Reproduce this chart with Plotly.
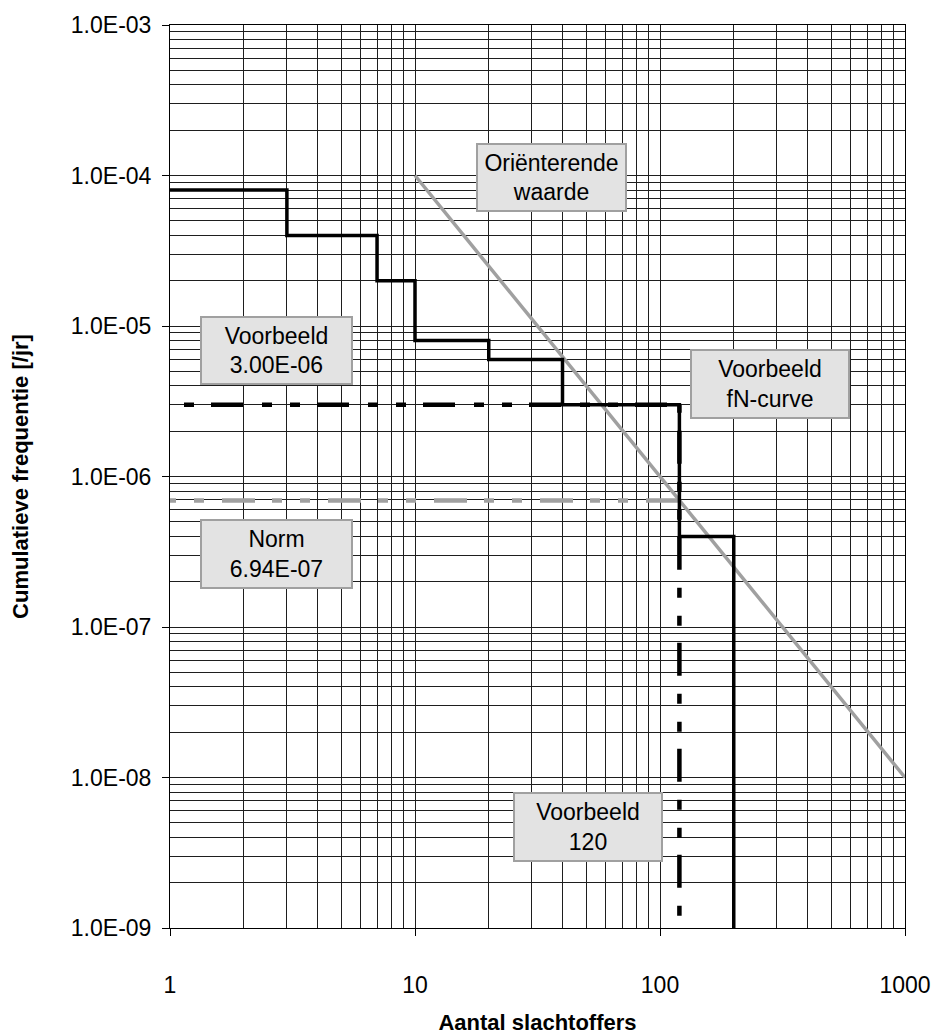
import plotly.graph_objects as go

# ---- data ----
fn_N = [1, 3, 7, 10, 20, 40, 120, 200]
fn_F = [8e-5, 4e-5, 2e-5, 8e-6, 6e-6, 3e-6, 4e-7, 1e-9]

ow_N = [10, 1000]
ow_F = [1e-4, 1e-8]

vb_N = [1, 120]
vb_F = [3e-6, 3e-6]

norm_N = [1, 120]
norm_F = [6.94e-7, 6.94e-7]

v120_N = [120, 120]
v120_F = [3e-6, 1e-9]

x_tickvals = [1, 10, 100, 1000]
x_ticktext = ["1", "10", "100", "1000"]
y_tickvals = [1e-9, 1e-8, 1e-7, 1e-6, 1e-5, 1e-4, 1e-3]
y_ticktext = ["1.0E-09", "1.0E-08", "1.0E-07", "1.0E-06", "1.0E-05", "1.0E-04", "1.0E-03"]

labels = [
    ("Oriënterende<br>waarde", 1.557, -4.013, 151, 69),
    ("Voorbeeld<br>3.00E-06", 0.433, -5.163, 153, 69),
    ("Voorbeeld<br>fN-curve", 2.450, -5.385, 160, 70),
    ("Norm<br>6.94E-07", 0.433, -6.515, 153, 70),
    ("Voorbeeld<br>120", 1.706, -8.329, 150, 70),
]

x_minor = [m * 10 ** d for d in range(0, 3) for m in range(2, 10)]
y_minor = [m * 10.0 ** d for d in range(-9, -3) for m in range(2, 10)]


def dash(prefix, cycle, n):
    vals = list(prefix) + list(cycle) * n
    return ",".join(f"{v}px" for v in vals)


FONT = "Liberation Sans, Arial, sans-serif"
GRID = "#1e1e1e"

fig = go.Figure()

fig.add_trace(go.Scatter(x=ow_N, y=ow_F, mode="lines",
                         line=dict(color="#a0a0a0", width=3.5), showlegend=False))
fig.add_trace(go.Scatter(x=norm_N, y=norm_F, mode="lines",
                         line=dict(color="#a0a0a0", width=4.5,
                                   dash=dash([6, 18], [10, 18, 33, 17, 10, 18], 6)),
                         showlegend=False))
fig.add_trace(go.Scatter(x=vb_N, y=vb_F, mode="lines",
                         line=dict(color="black", width=4.5,
                                   dash=dash([0, 14], [10, 17, 32, 19, 10, 18], 6)),
                         showlegend=False))
fig.add_trace(go.Scatter(x=v120_N, y=v120_F, mode="lines",
                         line=dict(color="black", width=4.5,
                                   dash=dash([8, 18], [33, 18, 10, 18, 10, 17], 6)),
                         showlegend=False))
fig.add_trace(go.Scatter(x=fn_N, y=fn_F, mode="lines", line_shape="hv",
                         line=dict(color="black", width=3.5), showlegend=False))

for txt, lx, ly, w, h in labels:
    fig.add_annotation(x=lx, y=ly, xref="x", yref="y", text=txt, showarrow=False,
                       font=dict(family=FONT, size=23, color="black"),
                       bgcolor="#e3e3e3", bordercolor="#a0a0a0", borderwidth=2,
                       borderpad=2, width=w - 8, height=h - 8, align="center")

fig.update_xaxes(type="log", range=[0, 3], tickmode="array",
                 tickvals=x_tickvals, ticktext=x_ticktext,
                 ticks="outside", ticklen=7, tickcolor="black",
                 showgrid=True, gridcolor=GRID, gridwidth=1,
                 minor=dict(tickmode="array", tickvals=x_minor, showgrid=True,
                            gridcolor=GRID, gridwidth=1, ticks=""),
                 showline=True, linecolor="black", linewidth=1, mirror=True,
                 zeroline=False, ticklabelstandoff=29,
                 tickfont=dict(family=FONT, size=23, color="black"),
                 title=dict(text="<b>Aantal slachtoffers</b>", standoff=18,
                            font=dict(family=FONT, size=22, color="black")))
fig.update_yaxes(type="log", range=[-9, -3], tickmode="array",
                 tickvals=y_tickvals, ticktext=y_ticktext,
                 ticks="outside", ticklen=7, tickcolor="black",
                 showgrid=True, gridcolor=GRID, gridwidth=1,
                 minor=dict(tickmode="array", tickvals=y_minor, showgrid=True,
                            gridcolor=GRID, gridwidth=1, ticks=""),
                 showline=True, linecolor="black", linewidth=1, mirror=True,
                 zeroline=False, ticklabelstandoff=6,
                 tickfont=dict(family=FONT, size=23, color="black"),
                 title=dict(text="<b>Cumulatieve frequentie [/jr]</b>", standoff=36,
                            font=dict(family=FONT, size=22, color="black")))

fig.update_layout(width=931, height=1036,
                  margin=dict(l=170, r=26, t=25, b=108, autoexpand=False),
                  paper_bgcolor="white", plot_bgcolor="white")

fig.write_html("out.html", config={"displayModeBar": False},
               post_script="document.body.style.margin='0px';document.body.style.overflow='hidden';")
